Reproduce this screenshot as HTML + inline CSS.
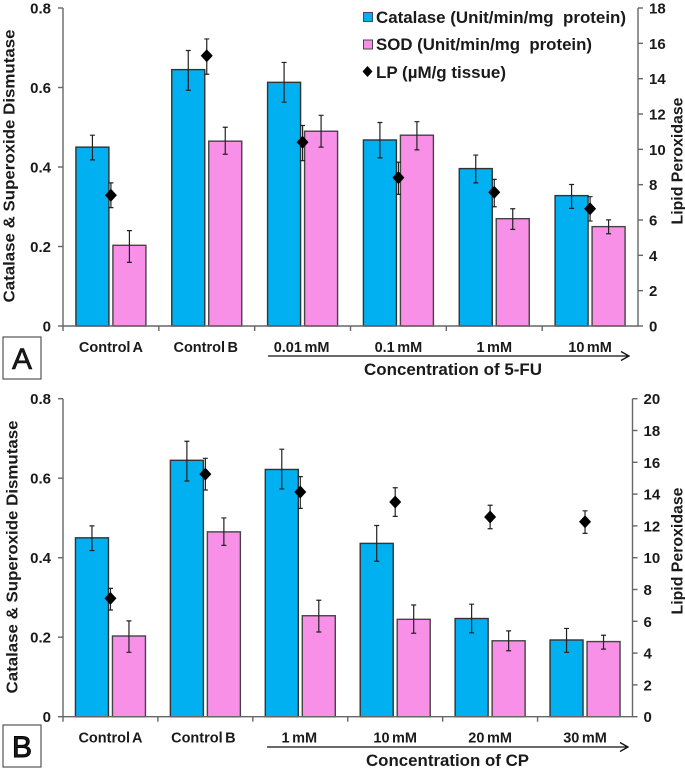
<!DOCTYPE html>
<html>
<head>
<meta charset="utf-8">
<title>Catalase, SOD and LP charts</title>
<style>
html,body{margin:0;padding:0;background:#fff;width:685px;height:770px;overflow:hidden}
svg{display:block}
text{font-family:"Liberation Sans",sans-serif;font-weight:bold;fill:#1a1a1a}
</style>
</head>
<body>
<svg id="chart" width="685" height="770" viewBox="0 0 685 770" xmlns="http://www.w3.org/2000/svg"></svg>
<script>
const categoriesA = ["Control A", "Control B", "0.01 mM", "0.1 mM", "1 mM", "10 mM"];
const catalaseA = [0.45, 0.645, 0.613, 0.468, 0.396, 0.328];
const catalaseHighA = [0.48, 0.693, 0.663, 0.512, 0.43, 0.356];
const catalaseLowA = [0.418, 0.593, 0.563, 0.423, 0.36, 0.296];
const sodA = [0.203, 0.465, 0.49, 0.48, 0.27, 0.25];
const sodHighA = [0.24, 0.5, 0.53, 0.514, 0.295, 0.267];
const sodLowA = [0.16, 0.432, 0.45, 0.443, 0.243, 0.232];
const lpA = [7.4, 15.3, 10.4, 8.4, 7.57, 6.64];
const lpHighA = [8.1, 16.25, 11.35, 9.27, 8.3, 7.32];
const lpLowA = [6.7, 14.25, 9.36, 7.45, 6.75, 5.94];
const leftTicksA = [0, 0.2, 0.4, 0.6, 0.8];
const rightTicksA = [0, 2, 4, 6, 8, 10, 12, 14, 16, 18];

const categoriesB = ["Control A", "Control B", "1 mM", "10 mM", "20 mM", "30 mM"];
const catalaseB = [0.45, 0.645, 0.622, 0.436, 0.247, 0.193];
const catalaseHighB = [0.48, 0.693, 0.673, 0.481, 0.283, 0.222];
const catalaseLowB = [0.418, 0.593, 0.573, 0.391, 0.211, 0.162];
const sodB = [0.203, 0.465, 0.254, 0.245, 0.191, 0.189];
const sodHighB = [0.241, 0.5, 0.293, 0.281, 0.216, 0.205];
const sodLowB = [0.162, 0.431, 0.213, 0.21, 0.166, 0.17];
const lpB = [7.44, 15.26, 14.13, 13.5, 12.56, 12.26];
const lpHighB = [8.07, 16.25, 15.1, 14.4, 13.3, 12.95];
const lpLowB = [6.71, 14.26, 13.1, 12.6, 11.82, 11.53];
const leftTicksB = [0, 0.2, 0.4, 0.6, 0.8];
const rightTicksB = [0, 2, 4, 6, 8, 10, 12, 14, 16, 18, 20];

const svg = document.getElementById('chart');
const NS = 'http://www.w3.org/2000/svg';
const AXIS = '#666';

function mk(tag, attrs, parent, txt) {
  const el = document.createElementNS(NS, tag);
  for (const k in attrs) el.setAttribute(k, attrs[k]);
  if (txt !== undefined) el.textContent = txt;
  (parent || svg).appendChild(el);
  return el;
}

function drawPanel(p) {
  const g = mk('g', {});
  
  
  const y = v => p.bottom - (v / p.leftMax) * (p.bottom - p.top);
  const yr = v => p.bottom - (v / p.rightMax) * (p.bottom - p.top);
  const step = (p.right - p.left) / p.categories.length;
  const cx = i => p.left + step * (i + 0.5);

  // bars
  p.categories.forEach((c, i) => {
    const b1 = mk('rect', {x: cx(i) - 35, y: y(p.cat[i]), width: 33, height: p.bottom - y(p.cat[i]), fill: '#00B0F0', stroke: '#333', 'stroke-width': 1.4}, g);
    
    
    const b2 = mk('rect', {x: cx(i) + 2, y: y(p.sod[i]), width: 33, height: p.bottom - y(p.sod[i]), fill: '#F890E8', stroke: '#444', 'stroke-width': 1.4}, g);
    
    
  });

  function whisker(x, hi, lo, name) {
    const w = mk('path', {d: `M${x - 2.5} ${hi}H${x + 2.5}M${x} ${hi}V${lo}M${x - 2.5} ${lo}H${x + 2.5}`, fill: 'none', stroke: '#222', 'stroke-width': 1.2}, g);
    
    
  }
  p.categories.forEach((c, i) => {
    whisker(cx(i) - 18.5, y(p.catHigh[i]), y(p.catLow[i]), 'catalase-error-bar');
    whisker(cx(i) + 18.5, y(p.sodHigh[i]), y(p.sodLow[i]), 'sod-error-bar');
    whisker(cx(i), yr(p.lpHigh[i]), yr(p.lpLow[i]), 'lp-error-bar');
    const py = yr(p.lp[i]);
    const d = mk('polygon', {points: `${cx(i)},${py - 6.5} ${cx(i) + 6},${py} ${cx(i)},${py + 6.5} ${cx(i) - 6},${py}`, fill: '#000'}, g);
    
    
  });

  // axes
  const ax = mk('path', {d: `M${p.left} ${p.top}V${p.bottom}H${p.right}V${p.top}`, fill: 'none', stroke: AXIS, 'stroke-width': 1.4}, g);
  
  

  p.leftTicks.forEach(t => {
    const tk = mk('line', {x1: p.left - 5, x2: p.left, y1: y(t), y2: y(t), stroke: AXIS, 'stroke-width': 1.4}, g);
    
    
    const tx = mk('text', {x: 51, y: y(t) + 5.5, 'text-anchor': 'end', 'font-size': 15}, g, String(t));
    
    
  });
  p.rightTicks.forEach(t => {
    const tk = mk('line', {x1: p.right, x2: p.right + 5, y1: yr(t), y2: yr(t), stroke: AXIS, 'stroke-width': 1.4}, g);
    
    
    const tx = mk('text', {x: p.right + 11, y: yr(t) + 5.5, 'font-size': 15}, g, String(t));
    
    
  });
  p.categories.forEach((c, i) => {
    const tk = mk('line', {x1: p.left + step * i, x2: p.left + step * i, y1: p.bottom, y2: p.bottom + 5, stroke: AXIS, 'stroke-width': 1.4}, g);
    
    
    const tx = mk('text', {x: cx(i) + p.labelShift[i], y: p.bottom + 26, 'text-anchor': 'middle', 'font-size': 14.5, 'word-spacing': '-1.5', fill: '#222'}, g, c);
    
    
  });

  // titles
  const lt = mk('text', {transform: `translate(${p.ltx} ${p.ltc}) rotate(-90)`, 'text-anchor': 'middle', 'font-size': 16, textLength: 273, lengthAdjust: 'spacingAndGlyphs'}, g, 'Catalase & Superoxide Dismutase');
  
  
  const rt = mk('text', {transform: `translate(${p.rtx} ${p.rtc}) rotate(-90)`, 'text-anchor': 'middle', 'font-size': 16, textLength: 127, lengthAdjust: 'spacingAndGlyphs'}, g, 'Lipid Peroxidase');
  
  

  // arrow
  const ar = mk('path', {d: `M${p.arrowX1} ${p.arrowY}H${p.arrowX2}M${p.arrowX2 - 8} ${p.arrowY - 4.5}L${p.arrowX2} ${p.arrowY}L${p.arrowX2 - 8} ${p.arrowY + 4.5}`, fill: 'none', stroke: '#111', 'stroke-width': 1.3}, g);
  
  
  const cl = mk('text', {x: p.concX, y: p.concY, 'font-size': 17, fill: '#222', textLength: p.concLen, lengthAdjust: 'spacingAndGlyphs'}, g, p.concText);
  
  

  // panel letter
  const bx = mk('rect', {x: 3, y: p.boxY, width: 38, height: 42, fill: '#fff', stroke: '#555', 'stroke-width': 1.2}, g);
  
  
  const pl = mk('text', {x: 22, y: p.boxY + 32, 'text-anchor': 'middle', 'font-size': 30, fill: '#000', stroke: '#000', 'stroke-width': p.letterStroke, style: 'font-weight:normal'}, g, p.id);
  
  
}

drawPanel({
  id: 'A', left: 63, right: 638, top: 8, bottom: 326, leftMax: 0.8, rightMax: 18,
  categories: categoriesA, cat: catalaseA, catHigh: catalaseHighA, catLow: catalaseLowA,
  sod: sodA, sodHigh: sodHighA, sodLow: sodLowA, lp: lpA, lpHigh: lpHighA, lpLow: lpLowA,
  leftTicks: leftTicksA, rightTicks: rightTicksA, labelShift: [0, -1, -1, 0, 0, 0],
  ltx: 14.5, ltc: 166, rtx: 682.5, rtc: 161,
  arrowX1: 268, arrowX2: 629, arrowY: 356, concX: 364, concY: 375, concLen: 178,
  concText: 'Concentration of 5-FU', boxY: 337, letterStroke: 0.6
});
drawPanel({
  id: 'B', left: 63, right: 632.5, top: 398.7, bottom: 716.7, leftMax: 0.8, rightMax: 20,
  categories: categoriesB, cat: catalaseB, catHigh: catalaseHighB, catLow: catalaseLowB,
  sod: sodB, sodHigh: sodHighB, sodLow: sodLowB, lp: lpB, lpHigh: lpHighB, lpLow: lpLowB,
  leftTicks: leftTicksB, rightTicks: rightTicksB, labelShift: [0, -2, -1, 0, 0, 0],
  ltx: 17.5, ltc: 557, rtx: 682.5, rtc: 551,
  arrowX1: 267, arrowX2: 628, arrowY: 747, concX: 366, concY: 766, concLen: 163,
  concText: 'Concentration of CP', boxY: 725, letterStroke: 1
});

// legend
const lg = mk('g', {});


const s1 = mk('rect', {x: 363.5, y: 12.5, width: 9, height: 9, fill: '#00B0F0', stroke: '#4a4a4a', 'stroke-width': 1}, lg);


const t1 = mk('text', {x: 376, y: 23, 'font-size': 17, textLength: 250, lengthAdjust: 'spacingAndGlyphs'}, lg, 'Catalase (Unit/min/mg\u00A0 protein)');


const s2 = mk('rect', {x: 363.5, y: 40, width: 9, height: 9, fill: '#F890E8', stroke: '#4a4a4a', 'stroke-width': 1}, lg);


const t2 = mk('text', {x: 376, y: 50, 'font-size': 17, textLength: 216, lengthAdjust: 'spacingAndGlyphs'}, lg, 'SOD (Unit/min/mg\u00A0 protein)');


const s3 = mk('polygon', {points: '367.5,66 372.5,71.5 367.5,77 362.5,71.5', fill: '#000'}, lg);


const t3 = mk('text', {x: 376, y: 78, 'font-size': 17, textLength: 130, lengthAdjust: 'spacingAndGlyphs'}, lg, 'LP (µM/g tissue)');


</script>
</body>
</html>
